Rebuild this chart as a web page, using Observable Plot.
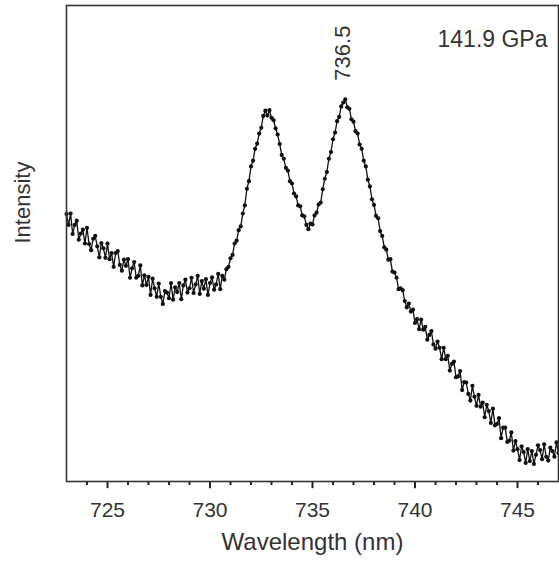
<!DOCTYPE html>
<html>
<head>
<meta charset="utf-8">
<script src="https://cdn.jsdelivr.net/npm/d3@7"></script>
<script src="https://cdn.jsdelivr.net/npm/@observablehq/plot@0.6"></script>
<style>
  html, body { margin: 0; padding: 0; background: #fff; }
</style>
</head>
<body>
<div id="chart"></div>
<script>
const wavelength = [
  723.0,723.1,723.2,723.3,723.4,723.5,723.6,723.7,723.8,723.9,
  724.0,724.1,724.2,724.3,724.4,724.5,724.6,724.7,724.8,724.9,
  725.0,725.1,725.2,725.3,725.4,725.5,725.6,725.7,725.8,725.9,
  726.0,726.1,726.2,726.3,726.4,726.5,726.6,726.7,726.8,726.9,
  727.0,727.1,727.2,727.3,727.4,727.5,727.6,727.7,727.8,727.9,
  728.0,728.1,728.2,728.3,728.4,728.5,728.6,728.7,728.8,728.9,
  729.0,729.1,729.2,729.3,729.4,729.5,729.6,729.7,729.8,729.9,
  730.0,730.1,730.2,730.3,730.4,730.5,730.6,730.7,730.8,730.9,
  731.0,731.1,731.2,731.3,731.4,731.5,731.6,731.7,731.8,731.9,
  732.0,732.1,732.2,732.3,732.4,732.5,732.6,732.7,732.8,732.9,
  733.0,733.1,733.2,733.3,733.4,733.5,733.6,733.7,733.8,733.9,
  734.0,734.1,734.2,734.3,734.4,734.5,734.6,734.7,734.8,734.9,
  735.0,735.1,735.2,735.3,735.4,735.5,735.6,735.7,735.8,735.9,
  736.0,736.1,736.2,736.3,736.4,736.5,736.6,736.7,736.8,736.9,
  737.0,737.1,737.2,737.3,737.4,737.5,737.6,737.7,737.8,737.9,
  738.0,738.1,738.2,738.3,738.4,738.5,738.6,738.7,738.8,738.9,
  739.0,739.1,739.2,739.3,739.4,739.5,739.6,739.7,739.8,739.9,
  740.0,740.1,740.2,740.3,740.4,740.5,740.6,740.7,740.8,740.9,
  741.0,741.1,741.2,741.3,741.4,741.5,741.6,741.7,741.8,741.9,
  742.0,742.1,742.2,742.3,742.4,742.5,742.6,742.7,742.8,742.9,
  743.0,743.1,743.2,743.3,743.4,743.5,743.6,743.7,743.8,743.9,
  744.0,744.1,744.2,744.3,744.4,744.5,744.6,744.7,744.8,744.9,
  745.0,745.1,745.2,745.3,745.4,745.5,745.6,745.7,745.8,745.9,
  746.0,746.1,746.2,746.3,746.4,746.5,746.6,746.7,746.8,746.9,
  747.0
];
const intensity = [
  56.2,53.9,56.3,52.0,53.9,54.8,50.8,52.1,52.9,50.0,
  53.3,49.9,48.6,51.0,51.6,49.4,47.1,50.1,49.0,47.0,
  50.0,46.7,48.0,45.1,48.0,48.4,45.5,44.3,46.6,45.3,
  46.7,42.8,44.8,46.1,42.8,43.2,45.4,41.2,43.3,41.3,
  43.0,39.2,42.6,40.6,38.8,41.6,38.8,37.3,40.0,39.7,
  38.5,41.7,38.2,40.8,39.8,41.7,38.3,41.2,42.4,39.7,
  40.6,42.8,39.6,41.4,43.2,39.4,42.1,40.5,42.5,39.2,
  41.7,42.9,40.3,41.4,43.6,40.4,43.2,42.4,44.6,45.1,
  46.9,47.6,50.0,50.6,52.8,53.6,56.3,58.0,61.5,63.1,
  66.2,67.4,69.9,71.0,73.1,74.3,76.8,77.9,76.9,78.0,
  76.4,75.9,74.2,72.9,70.9,68.6,67.8,65.9,65.3,63.1,
  62.6,60.5,59.9,58.0,57.8,55.9,55.7,53.9,53.0,54.2,
  54.0,55.9,56.5,58.2,58.6,61.4,63.6,65.0,67.8,69.2,
  71.9,73.3,75.7,76.6,78.8,79.6,80.3,78.6,78.3,76.1,
  75.6,73.6,73.1,70.8,69.9,67.4,66.2,63.4,62.0,59.3,
  58.1,55.8,55.3,52.6,51.6,49.2,48.7,46.6,46.7,44.1,
  43.9,42.8,40.4,40.6,40.2,37.9,36.6,37.4,35.7,36.1,
  33.3,34.1,32.0,34.0,31.9,32.5,29.8,30.8,31.6,28.8,
  27.9,29.4,28.1,25.7,28.1,25.7,26.4,23.3,24.7,25.2,
  21.9,22.1,23.2,19.2,20.9,20.8,18.4,17.0,20.1,17.8,
  15.9,18.2,15.7,16.6,13.5,16.1,14.8,12.3,15.3,11.8,
  12.1,13.3,9.1,11.3,11.3,8.3,8.6,10.3,6.5,8.5,
  6.8,4.5,7.4,6.2,3.9,6.8,4.3,6.4,3.7,5.6,
  7.6,6.6,4.7,7.8,5.2,4.4,7.1,6.4,5.2,8.2,
  6.0
];
const majorTicks = [725, 730, 735, 740, 745];
const minorTicks = [724, 726, 727, 728, 729, 731, 732, 733, 734, 736, 737, 738, 739, 741, 742, 743, 744, 746];
const xLabel = "Wavelength (nm)";
const yLabel = "Intensity";
const peakLabel = "736.5";
const peakWavelength = 736.5;
const pressureLabel = "141.9 GPa";

const data = wavelength.map((w, i) => ({w, v: intensity[i]}));

const chart = Plot.plot({
  width: 559,
  height: 566,
  marginLeft: 66,
  marginRight: 1,
  marginTop: 5,
  marginBottom: 85,
  x: {domain: [723, 747]},
  y: {domain: [0, 100], axis: null},
  style: {fontFamily: "'Liberation Sans', Arial, sans-serif", color: "#222", background: "#fff"},
  marks: [
    Plot.line(data, {x: "w", y: "v", stroke: "#111", strokeWidth: 1.3}),
    Plot.dot(data, {x: "w", y: "v", r: 2.1, fill: "#111", stroke: "none"}),
    Plot.ruleX(majorTicks, {x: d => d, y1: 0, y2: -1.5, stroke: "#222", strokeWidth: 2}),
    Plot.ruleX(minorTicks, {x: d => d, y1: 0, y2: -0.85, stroke: "#222", strokeWidth: 2}),
    Plot.axisX(majorTicks, {tickSize: 0, tickPadding: 21, fontSize: 21, label: null, fill: "#333"}),
    Plot.frame({stroke: "#333", strokeWidth: 1.6}),
    Plot.text([peakLabel], {x: peakWavelength, y: 90, rotate: -90, fontSize: 22, fill: "#333"}),
    Plot.text([pressureLabel], {frameAnchor: "top-right", dx: -11, dy: 25, textAnchor: "end", fontSize: 23, fill: "#333"}),
    Plot.text([xLabel], {frameAnchor: "bottom", dy: 68, fontSize: 24, fill: "#333"}),
    Plot.text([yLabel], {frameAnchor: "left", dx: -44, rotate: -90, fontSize: 22, fill: "#333"})
  ]
});
document.getElementById("chart").appendChild(chart);
</script>
</body>
</html>
